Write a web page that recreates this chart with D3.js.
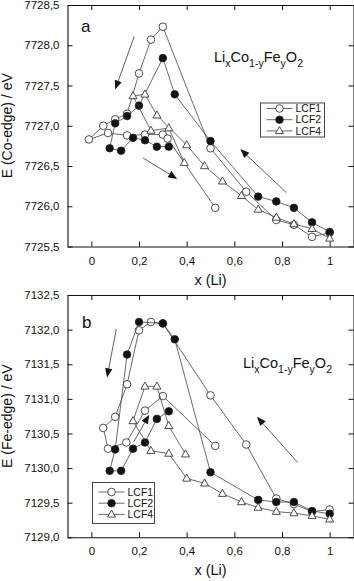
<!DOCTYPE html>
<html>
<head>
<meta charset="utf-8">
<script src="https://cdn.jsdelivr.net/npm/d3@7"></script>
<style>
body { margin: 0; background: #fff; }
text { font-family: "Liberation Sans", Arial, sans-serif; fill: #111; }
</style>
</head>
<body>
<div class="chart"></div>
<script>
// values: x (Li) and edge energy in eV
var seriesNames = ["LCF1", "LCF2", "LCF4"];
var xTicks = [0, 0.2, 0.4, 0.6, 0.8, 1];

// panel a - Co edge
var coTicks = [7725.5, 7726, 7726.5, 7727, 7727.5, 7728, 7728.5];
var coLCF1x = [1.0, 0.926, 0.85, 0.776, 0.65, 0.50, 0.30, 0.25, 0.20, 0.15, 0.10, 0.05, -0.01, 0.07, 0.15, 0.225, 0.30, 0.32, 0.52];
var coLCF1e = [7725.67, 7725.62, 7725.77, 7725.83, 7726.18, 7726.72, 7728.23, 7728.07, 7727.65, 7727.15, 7727.08, 7727.00, 7726.83, 7726.91, 7726.88, 7726.89, 7726.89, 7726.84, 7725.98];
var coLCF2x = [1.0, 0.926, 0.85, 0.776, 0.70, 0.50, 0.35, 0.30, 0.20, 0.15, 0.10, 0.077, 0.125, 0.175, 0.225, 0.275, 0.325];
var coLCF2e = [7725.68, 7725.80, 7725.98, 7726.06, 7726.12, 7726.81, 7727.39, 7727.84, 7727.25, 7727.12, 7727.03, 7726.72, 7726.69, 7726.85, 7726.82, 7726.74, 7726.74];
var coLCF4x = [1.0, 0.926, 0.85, 0.776, 0.70, 0.63, 0.55, 0.475, 0.40, 0.275, 0.225, 0.175, 0.25, 0.325, 0.39];
var coLCF4e = [7725.60, 7725.72, 7725.78, 7725.86, 7725.96, 7726.13, 7726.31, 7726.50, 7726.76, 7727.13, 7727.39, 7727.37, 7726.94, 7726.97, 7726.54];
// arrows: x0, e0 -> x1, e1 (tip)
var coArrows = [[0.18, 7728.11, 0.10, 7727.45], [0.217, 7726.60, 0.36, 7726.34], [0.818, 7726.17, 0.625, 7726.71]];

// panel b - Fe edge
var feTicks = [7129, 7129.5, 7130, 7130.5, 7131, 7131.5, 7132, 7132.5];
var feLCF1x = [1.0, 0.926, 0.85, 0.776, 0.65, 0.50, 0.30, 0.25, 0.20, 0.15, 0.10, 0.05, 0.07, 0.147, 0.225, 0.30, 0.52];
var feLCF1e = [7129.40, 7129.37, 7129.48, 7129.56, 7130.34, 7131.05, 7132.09, 7132.11, 7131.99, 7131.21, 7130.74, 7130.58, 7130.28, 7130.37, 7130.83, 7131.04, 7130.32];
var feLCF2x = [1.0, 0.926, 0.85, 0.776, 0.70, 0.50, 0.35, 0.30, 0.20, 0.15, 0.10, 0.077, 0.125, 0.175, 0.225, 0.275, 0.325];
var feLCF2e = [7129.34, 7129.38, 7129.51, 7129.51, 7129.54, 7129.94, 7131.86, 7132.09, 7132.11, 7131.64, 7130.27, 7129.96, 7129.96, 7130.28, 7130.37, 7130.71, 7130.82];
var feLCF4x = [1.0, 0.926, 0.85, 0.776, 0.70, 0.63, 0.55, 0.475, 0.40, 0.325, 0.25, 0.175, 0.225, 0.275, 0.325, 0.395];
var feLCF4e = [7129.26, 7129.31, 7129.35, 7129.37, 7129.43, 7129.51, 7129.63, 7129.78, 7129.85, 7130.21, 7130.25, 7130.68, 7131.18, 7131.18, 7130.61, 7130.20];
var feArrows = [[0.105, 7132.01, 0.066, 7131.31], [0.178, 7130.38, 0.243, 7130.77], [0.866, 7130.08, 0.695, 7130.74]];

var svgWidth = 354, svgHeight = 581;
var svg = d3.select(".chart").append("svg")
    .attr("width", svgWidth)
    .attr("height", svgHeight);

// comma decimal like the original
var loc = d3.formatLocale({decimal: ",", thousands: "", grouping: [3], currency: ["", ""]});
var fmtX = loc.format("~g");
var fmtY = loc.format(".1f");

var left = 67.5, right = 353.5;
var xScale = d3.scaleLinear().domain([-0.1, 1.1]).range([left, right]);

function zip(xs, es) {
    return xs.map((x, i) => ({x: x, e: es[i]}));
}

var triPath = "M0,-4.4L4,2.7L-4,2.7Z";

function drawMarker(sel, k) {
    if (k == 2) {
        sel.append("path").attr("d", triPath)
            .attr("fill", "#fff").attr("stroke", "#222").attr("stroke-width", 0.8);
    } else {
        sel.append("circle").attr("r", 3.8)
            .attr("fill", k == 1 ? "#111" : "#fff")
            .attr("stroke", "#222").attr("stroke-width", 0.8);
    }
}

function drawPanel(p) {
    var yScale = d3.scaleLinear().domain(p.yDomain).range([p.bottom, p.top]);
    var g = svg.append("g");

    // frame axes, ticks inward on all four sides
    g.append("g")
        .attr("transform", `translate(0, ${p.bottom})`)
        .call(d3.axisBottom(xScale).tickValues(xTicks).tickSizeInner(-5).tickSizeOuter(0).tickPadding(10).tickFormat(fmtX));
    g.append("g")
        .attr("transform", `translate(0, ${p.top})`)
        .call(d3.axisTop(xScale).tickValues(xTicks).tickSizeInner(-5).tickSizeOuter(0).tickFormat(""));
    g.append("g")
        .attr("transform", `translate(${left}, 0)`)
        .call(d3.axisLeft(yScale).tickValues(p.ticks).tickSizeInner(-5).tickSizeOuter(0).tickPadding(8).tickFormat(fmtY));
    g.append("g")
        .attr("transform", `translate(${right}, 0)`)
        .call(d3.axisRight(yScale).tickValues(p.ticks).tickSizeInner(-5).tickSizeOuter(0).tickFormat(""));
    g.selectAll(".tick text").attr("font-size", "11.5px").attr("fill", "#111")
        .attr("font-family", "'Liberation Sans', Arial, sans-serif");
    g.selectAll(".domain").attr("stroke", "#111").attr("stroke-width", 1.1);
    g.selectAll(".tick line").attr("stroke", "#111");

    // axis titles
    g.append("text")
        .attr("x", (left + right) / 2)
        .attr("y", p.bottom + 38)
        .attr("text-anchor", "middle")
        .attr("font-size", "14.5px")
        .text("x (Li)");
    g.append("text")
        .attr("transform", `translate(12, ${(p.top + p.bottom) / 2}) rotate(-90)`)
        .attr("text-anchor", "middle")
        .attr("font-size", "14px")
        .text(p.yLabel);

    // panel letter
    g.append("text").attr("x", p.letterX).attr("y", p.letterY)
        .attr("font-size", "17px").text(p.letter);

    // formula Li_x Co_1-y Fe_y O_2
    var f = g.append("text").attr("x", p.formX).attr("y", p.formY).attr("font-size", "14.5px");
    var parts = [["Li", "x"], ["Co", "1-y"], ["Fe", "y"], ["O", "2"]];
    parts.forEach(function(pp, i) {
        f.append("tspan").attr("dy", i == 0 ? 0 : -5).text(pp[0]);
        f.append("tspan").attr("font-size", "10.5px").attr("dy", 5).text(pp[1]);
    });

    // series
    var line = d3.line().x(d => xScale(d.x)).y(d => yScale(d.e));
    p.series.forEach(function(s, k) {
        var pts = zip(s[0], s[1]);
        g.append("path").datum(pts)
            .attr("d", line)
            .attr("fill", "none")
            .attr("stroke", "#444")
            .attr("stroke-width", 0.8);
        var m = g.selectAll(".m" + k).data(pts).enter().append("g")
            .attr("class", "m" + k)
            .attr("transform", d => `translate(${xScale(d.x)}, ${yScale(d.e)})`);
        drawMarker(m, k);
    });

    // arrows
    p.arrows.forEach(function(a) {
        var x0 = xScale(a[0]), y0 = yScale(a[1]), x1 = xScale(a[2]), y1 = yScale(a[3]);
        var ang = Math.atan2(y1 - y0, x1 - x0);
        var hl = 9, hw = 3.6;
        var bx = x1 - hl * Math.cos(ang), by = y1 - hl * Math.sin(ang);
        g.append("line").attr("x1", x0).attr("y1", y0).attr("x2", bx).attr("y2", by)
            .attr("stroke", "#333").attr("stroke-width", 0.8);
        var px = -Math.sin(ang) * hw, py = Math.cos(ang) * hw;
        g.append("path")
            .attr("d", `M${x1},${y1}L${bx + px},${by + py}L${bx - px},${by - py}Z`)
            .attr("fill", "#111");
    });

    // legend
    var lg = p.legend;
    g.append("rect").attr("x", lg.x).attr("y", lg.y).attr("width", lg.w).attr("height", lg.h)
        .attr("fill", "#fff").attr("stroke", "#333").attr("stroke-width", 0.9);
    seriesNames.forEach(function(name, k) {
        var yy = lg.y + lg.first + k * 11.2;
        g.append("line").attr("x1", lg.x + 6).attr("x2", lg.x + 32).attr("y1", yy).attr("y2", yy)
            .attr("stroke", "#444").attr("stroke-width", 0.8);
        var m = g.append("g").attr("transform", `translate(${lg.x + 19}, ${yy})`);
        drawMarker(m, k);
        g.append("text").attr("x", lg.x + 35).attr("y", yy + 3.7)
            .attr("font-size", "10.5px").text(name);
    });
}

drawPanel({
    top: 5, bottom: 246.5, yDomain: [7725.5, 7728.5], ticks: coTicks,
    yLabel: "E (Co-edge) / eV", letter: "a", letterX: 81, letterY: 32,
    formX: 214, formY: 62,
    series: [[coLCF1x, coLCF1e], [coLCF2x, coLCF2e], [coLCF4x, coLCF4e]],
    arrows: coArrows,
    legend: {x: 260.5, y: 103, w: 64, h: 34, first: 5.5}
});

drawPanel({
    top: 295, bottom: 537.3, yDomain: [7129, 7132.5], ticks: feTicks,
    yLabel: "E (Fe-edge) / eV", letter: "b", letterX: 82, letterY: 328,
    formX: 243, formY: 368,
    series: [[feLCF1x, feLCF1e], [feLCF2x, feLCF2e], [feLCF4x, feLCF4e]],
    arrows: feArrows,
    legend: {x: 92.5, y: 482.5, w: 62, h: 41, first: 9.5}
});
</script>
</body>
</html>
